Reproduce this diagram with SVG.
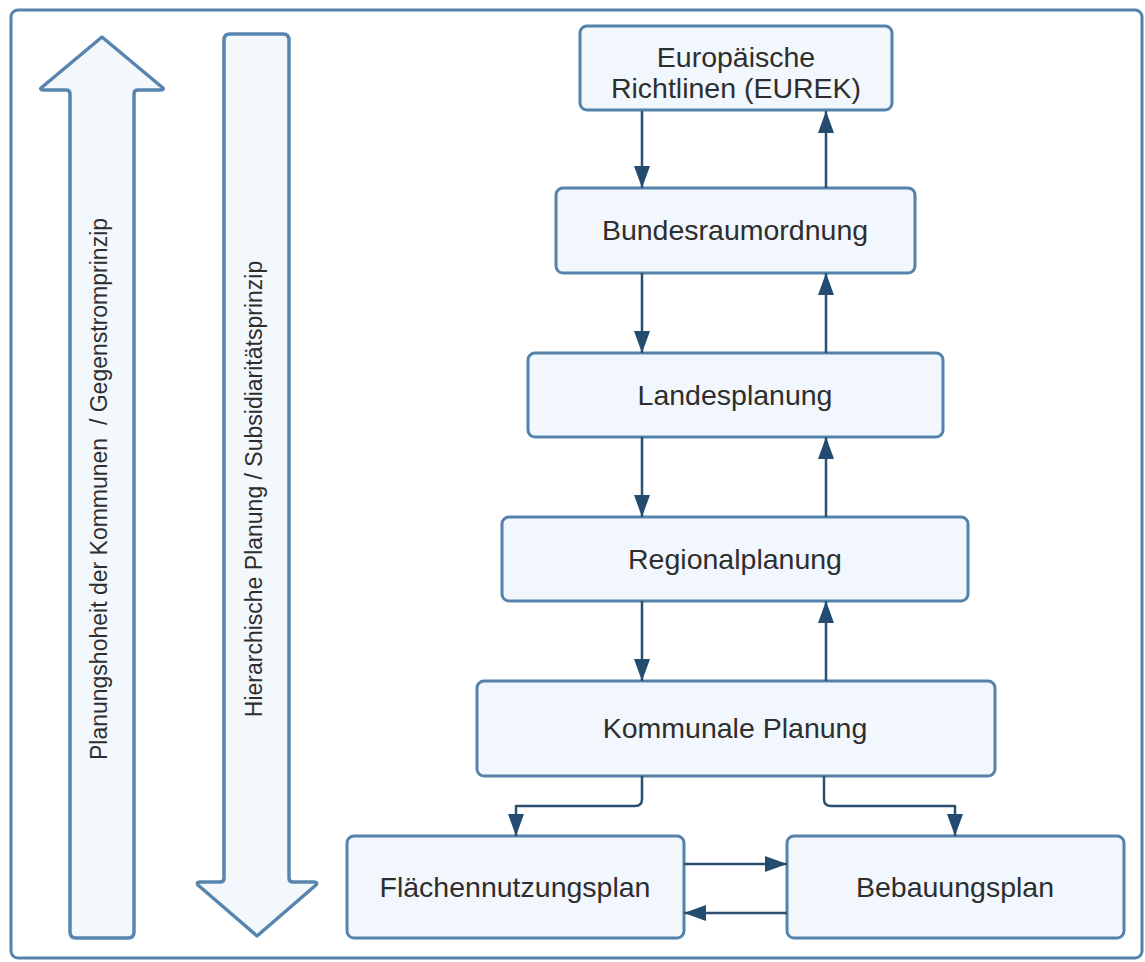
<svg xmlns="http://www.w3.org/2000/svg" width="1145" height="962" viewBox="0 0 1145 962">
<style>
.frame{fill:#ffffff;stroke:#5482ab;stroke-width:3}
.big{fill:#f3f8fc;stroke:#5785ae;stroke-width:3.5;stroke-linejoin:round}
.node{fill:#f1f7fc;stroke:#5582ab;stroke-width:3}
.lbl{font-family:"Liberation Sans",Arial,sans-serif;font-size:28.5px;fill:#2e2e2e;text-anchor:middle}
.vlbl{font-family:"Liberation Sans",Arial,sans-serif;font-size:23px;fill:#2e2e2e;text-anchor:middle}
.conn{fill:none;stroke:#2b4f72;stroke-width:2.5;stroke-linejoin:round}
</style>
<defs>
<marker id="ah" markerUnits="userSpaceOnUse" markerWidth="24" markerHeight="18" refX="22" refY="8" orient="auto">
<path d="M0,0 L22,8 L0,16 Z" fill="#244b70"/>
</marker>
</defs>
<rect class="frame" x="11" y="10" width="1131" height="948" rx="7"/>
<g id="arrow-up">
<path class="big" d="M102,37 L163,88 Q164,90 160,90 L138,90 Q134,90 134,94 L134,932 Q134,938 128,938 L76,938 Q70,938 70,932 L70,94 Q70,90 66,90 L44,90 Q40,90 41,88 Z"/>
<text class="vlbl" transform="translate(107,489) rotate(-90)" xml:space="preserve">Planungshoheit der Kommunen  / Gegenstromprinzip</text>
</g>
<g id="arrow-down">
<path class="big" d="M230,34 L283,34 Q289,34 289,40 L289,878 Q289,882 293,882 L314,882 Q318,882 316,885 L257,936 L198,885 Q196,882 200,882 L220,882 Q224,882 224,878 L224,40 Q224,34 230,34 Z"/>
<text class="vlbl" transform="translate(262,489) rotate(-90)">Hierarchische Planung / Subsidiaritätsprinzip</text>
</g>
<g id="n-eu">
<rect class="node" x="580" y="26" width="312" height="84" rx="7"/>
<text class="lbl" x="736" y="67">Europäische</text>
<text class="lbl" x="736" y="98">Richtlinen (EUREK)</text>
</g>
<g id="n-bund">
<rect class="node" x="556" y="188" width="359" height="85" rx="7"/>
<text class="lbl" x="735" y="240">Bundesraumordnung</text>
</g>
<g id="n-land">
<rect class="node" x="528" y="353" width="415" height="84" rx="7"/>
<text class="lbl" x="735" y="405">Landesplanung</text>
</g>
<g id="n-reg">
<rect class="node" x="502" y="517" width="466" height="84" rx="7"/>
<text class="lbl" x="735" y="569">Regionalplanung</text>
</g>
<g id="n-kom">
<rect class="node" x="477" y="681" width="518" height="95" rx="7"/>
<text class="lbl" x="735" y="738">Kommunale Planung</text>
</g>
<g id="n-fnp">
<rect class="node" x="347" y="836" width="337" height="102" rx="7"/>
<text class="lbl" x="515" y="897">Flächennutzungsplan</text>
</g>
<g id="n-bp">
<rect class="node" x="787" y="836" width="337" height="102" rx="7"/>
<text class="lbl" x="955" y="897">Bebauungsplan</text>
</g>
<g id="connectors">
<path class="conn" d="M642,111 L642,188" marker-end="url(#ah)"/>
<path class="conn" d="M826,188 L826,111" marker-end="url(#ah)"/>
<path class="conn" d="M642,273 L642,353" marker-end="url(#ah)"/>
<path class="conn" d="M826,353 L826,273" marker-end="url(#ah)"/>
<path class="conn" d="M642,437 L642,517" marker-end="url(#ah)"/>
<path class="conn" d="M826,517 L826,437" marker-end="url(#ah)"/>
<path class="conn" d="M642,601 L642,681" marker-end="url(#ah)"/>
<path class="conn" d="M826,681 L826,601" marker-end="url(#ah)"/>
<path class="conn" d="M642,776 L642,799 Q642,806 635,806 L516,806 L516,836" marker-end="url(#ah)"/>
<path class="conn" d="M824,776 L824,799 Q824,806 831,806 L955,806 L955,836" marker-end="url(#ah)"/>
<path class="conn" d="M684,864 L787,864" marker-end="url(#ah)"/>
<path class="conn" d="M787,913 L684,913" marker-end="url(#ah)"/>
</g>
</svg>
